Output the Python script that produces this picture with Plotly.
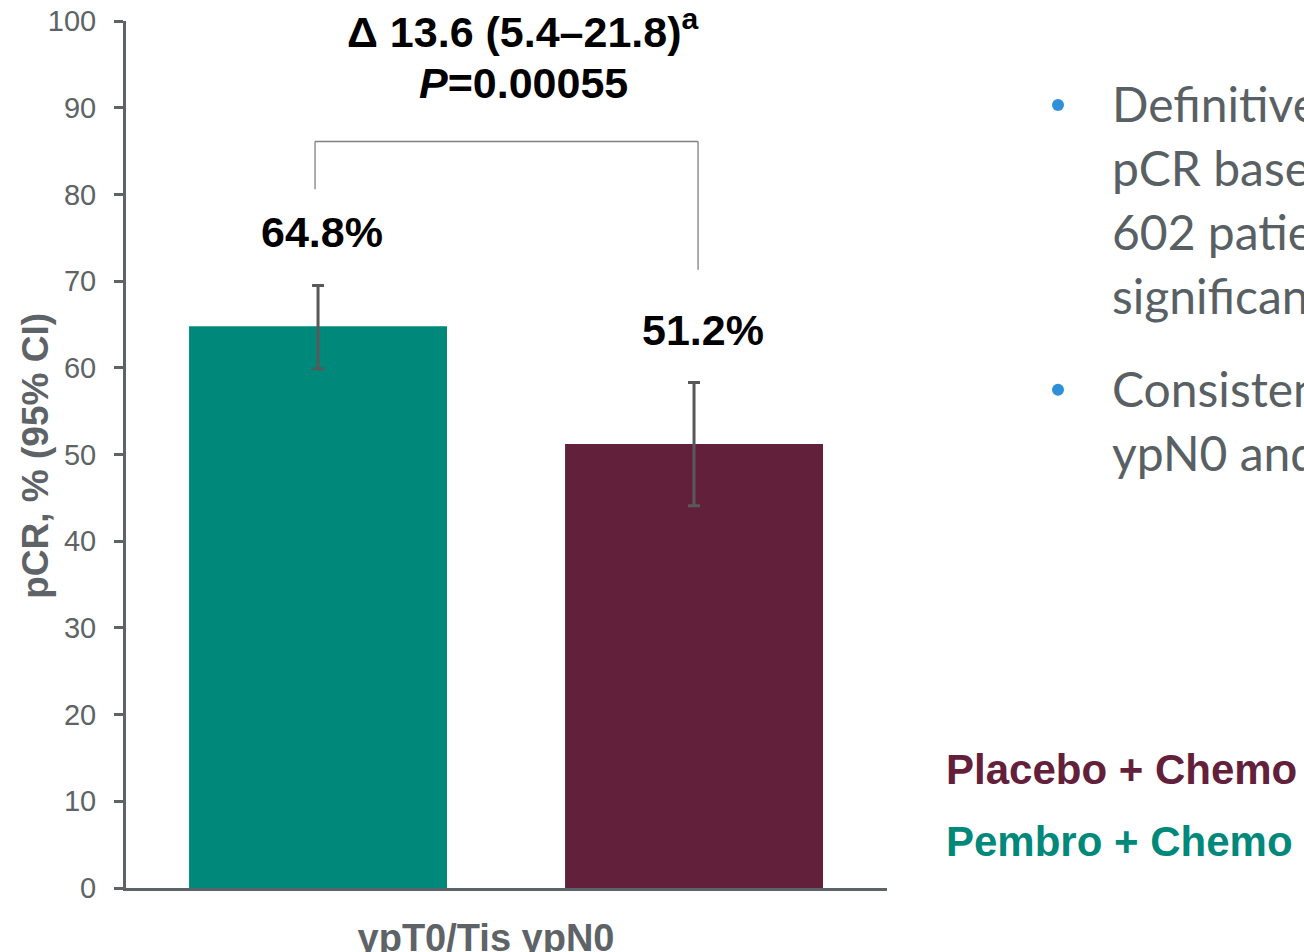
import plotly.graph_objects as go

# ---------------- data ----------------
category = ["ypT0/Tis ypN0"]
groups = ["Pembro + Chemo", "Placebo + Chemo"]
pcr = [64.8, 51.2]
ci_low = [59.9, 44.1]
ci_high = [69.5, 58.3]
value_labels = ["64.8%", "51.2%"]
bar_colors = ["#00897b", "#63203a"]
y_ticks = [0, 10, 20, 30, 40, 50, 60, 70, 80, 90, 100]
delta_text = "Δ 13.6 (5.4–21.8)"
delta_sup = "a"
p_text = "0.00055"
y_title = "pCR, % (95% CI)"
legend_order = ["Placebo + Chemo", "Pembro + Chemo"]
bullet_paragraphs = [["Definitive", "pCR based", "602 patients", "significant"],
                     ["Consistent", "ypN0 and"]]

# ---------------- geometry helpers ----------------
W, H = 1304, 952
L, R, T, B = 126, 887, 21, 888.5
GRAY = "#5d6366"
FONT = "Liberation Sans, Arial, sans-serif"


def pxx(px):
    return (px - L) / (R - L)


def pxy(py):
    return 1 - (py - T) / (B - T)


bargap = 0.2
offset = (1 - bargap) / 4  # centre of each bar relative to the category

fig = go.Figure()
for i in range(len(groups)):
    fig.add_trace(go.Bar(
        x=category, y=[pcr[i]], name=groups[i],
        marker=dict(color=bar_colors[i], line=dict(width=0)),
        error_y=dict(type="data", symmetric=False,
                     array=[ci_high[i] - pcr[i]],
                     arrayminus=[pcr[i] - ci_low[i]],
                     color="#595959", thickness=3, width=6),
        showlegend=False, cliponaxis=False,
    ))

annotations = []
# value labels above the error bars
for i in range(len(groups)):
    annotations.append(dict(
        x=(-offset if i == 0 else offset), y=ci_high[i], xref="x", yref="y",
        text=value_labels[i], showarrow=False, xanchor="center", yanchor="middle",
        xshift=(4 if i == 0 else 9), yshift=53,
        font=dict(family=FONT, size=43, color="#000000", weight="bold")))

# difference text
annotations.append(dict(
    x=pxx(523), y=pxy(29), xref="paper", yref="paper",
    text=f"{delta_text}<sup>{delta_sup}</sup>", showarrow=False,
    xanchor="center", yanchor="middle",
    font=dict(family=FONT, size=43, color="#000000", weight="bold")))
annotations.append(dict(
    x=pxx(523), y=pxy(83), xref="paper", yref="paper",
    text=f"<i>P</i>={p_text}", showarrow=False,
    xanchor="center", yanchor="middle",
    font=dict(family=FONT, size=43, color="#000000", weight="bold")))

# y-axis title
annotations.append(dict(
    x=pxx(36), y=pxy(456), xref="paper", yref="paper", text=y_title,
    textangle=-90, showarrow=False, xanchor="center", yanchor="middle",
    font=dict(family=FONT, size=37, color=GRAY, weight="bold")))

# legend (coloured text)
legend_colors = {groups[0]: bar_colors[0], groups[1]: bar_colors[1]}
for name, cy in zip(legend_order, [770, 842]):
    annotations.append(dict(
        x=pxx(944), y=pxy(cy), xref="paper", yref="paper", text=name,
        showarrow=False, xanchor="left", yanchor="middle",
        font=dict(family=FONT, size=42, color=legend_colors[name], weight="bold")))

# bullet text on the right
shapes = []
para_tops = [104, 389]
for para, top in zip(bullet_paragraphs, para_tops):
    shapes.append(dict(type="circle", xref="paper", yref="paper",
                       x0=pxx(1052), x1=pxx(1064), y0=pxy(top - 5), y1=pxy(top + 7),
                       fillcolor="#2f8fd8", line=dict(width=0)))
    for k, line in enumerate(para):
        annotations.append(dict(
            x=pxx(1110), y=pxy(top + 64 * k), xref="paper", yref="paper",
            text=line, showarrow=False, xanchor="left", yanchor="middle",
            font=dict(family="Lato, sans-serif", size=48, color="#596064")))

# significance bracket
bx0, bx1 = -offset - 0.0032, offset + 0.0043
shapes += [
    dict(type="line", xref="x", yref="y", x0=bx0, x1=bx0, y0=80.6, y1=86.1,
         line=dict(color="#808080", width=1.3)),
    dict(type="line", xref="x", yref="y", x0=bx0, x1=bx1, y0=86.1, y1=86.1,
         line=dict(color="#808080", width=1.3)),
    dict(type="line", xref="x", yref="y", x0=bx1, x1=bx1, y0=86.1, y1=71.3,
         line=dict(color="#808080", width=1.3)),
]

fig.update_layout(
    width=W, height=H,
    margin=dict(l=L, r=W - R, t=T, b=H - B, pad=0, autoexpand=False),
    paper_bgcolor="white", plot_bgcolor="white",
    barmode="group", bargap=bargap, bargroupgap=0.314,
    xaxis=dict(type="category", range=[-0.4043, 0.4053], showline=True,
               linecolor=GRAY, linewidth=3, ticks="", showgrid=False,
               automargin=False,
               tickfont=dict(family=FONT, size=38, color=GRAY, weight="bold"),
               ticklabelshift=-20, ticklabelstandoff=14),
    yaxis=dict(range=[0, 100], tickvals=y_ticks, showline=True, linecolor=GRAY,
               linewidth=3, ticks="outside", ticklen=9, tickwidth=2.5,
               tickcolor=GRAY, showgrid=False, zeroline=False, automargin=False,
               tickfont=dict(family=FONT, size=29, color=GRAY),
               ticklabelstandoff=12),
    annotations=annotations, shapes=shapes,
)

fig.write_html("out.html")
